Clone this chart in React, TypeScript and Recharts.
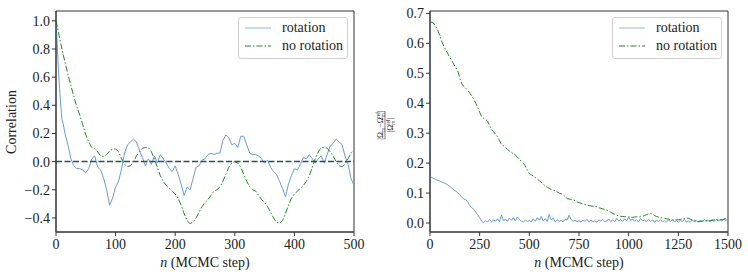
import React from 'react';
import { LineChart, Line, XAxis, YAxis, ReferenceLine, ReferenceArea } from 'recharts';

// ---------- Left panel: autocorrelation ----------
const leftN = [0, 2, 4, 6, 8, 10, 12, 15, 20, 25, 30, 35, 40, 45, 50, 55, 60, 65, 70, 75, 80, 85, 90, 95, 100,
  105, 110, 115, 120, 125, 130, 135, 140, 145, 150, 155, 160, 165, 170, 175, 180, 185, 190, 195, 200,
  205, 210, 215, 220, 225, 230, 235, 240, 245, 250, 255, 260, 265, 270, 275, 280, 285, 290, 295, 300,
  305, 310, 315, 320, 325, 330, 335, 340, 345, 350, 355, 360, 365, 370, 375, 380, 385, 390, 395, 400,
  405, 410, 415, 420, 425, 430, 435, 440, 445, 450, 455, 460, 465, 470, 475, 480, 485, 490, 495, 500];
const leftRotation = [1.0, 0.84, 0.66, 0.52, 0.4, 0.3, 0.27, 0.2, 0.12, 0.02, -0.03, -0.05, -0.05, -0.06, -0.08, -0.05, 0.02, 0.04, -0.04, -0.06, -0.12, -0.2, -0.31, -0.26, -0.18,
  -0.14, -0.05, 0.06, 0.12, 0.14, 0.16, 0.14, 0.08, 0.03, -0.03, 0.02, -0.02, 0.04, -0.01, 0.05, 0.02, -0.01, -0.05, -0.07, -0.03,
  -0.09, -0.16, -0.24, -0.18, -0.2, -0.12, -0.04, -0.03, 0.01, 0.02, 0.05, 0.06, 0.05, 0.06, 0.06, 0.15, 0.19, 0.17, 0.12, 0.13,
  0.1, 0.18, 0.18, 0.12, 0.06, 0.05, 0.05, 0.04, 0.02, -0.01, 0.01, -0.04, -0.07, -0.09, -0.14, -0.19, -0.25, -0.16, -0.1, -0.05,
  -0.06, -0.02, 0.03, 0.02, 0.05, 0.02, -0.01, 0.02, 0.04, -0.01, 0.05, 0.11, 0.13, 0.16, 0.14, 0.12, 0.04, -0.02, -0.12, -0.17];
const leftNoRotation = [1.0, 0.96, 0.92, 0.88, 0.84, 0.8, 0.76, 0.71, 0.62, 0.54, 0.46, 0.39, 0.33, 0.26, 0.19, 0.14, 0.1, 0.09, 0.07, 0.04, 0.035, 0.05, 0.075, 0.09, 0.09,
  0.07, 0.02, -0.02, -0.035, -0.03, 0.0, 0.04, 0.07, 0.095, 0.1, 0.1, 0.07, 0.02, -0.04, -0.1, -0.14, -0.17, -0.19, -0.21, -0.23,
  -0.26, -0.31, -0.37, -0.42, -0.44, -0.43, -0.4, -0.36, -0.32, -0.29, -0.27, -0.24, -0.21, -0.2, -0.18, -0.14, -0.09, -0.04, -0.01, 0.0,
  -0.01, -0.04, -0.09, -0.14, -0.18, -0.2, -0.21, -0.24, -0.27, -0.29, -0.32, -0.36, -0.4, -0.43, -0.44, -0.42, -0.37, -0.31, -0.26, -0.23,
  -0.21, -0.19, -0.17, -0.14, -0.1, -0.04, 0.02, 0.07, 0.1, 0.1, 0.095, 0.07, 0.04, 0.0, -0.03, -0.035, -0.02, 0.02, 0.06, 0.08];
const leftXTicks = [0, 100, 200, 300, 400, 500];
const leftYTicks = [-0.4, -0.2, 0.0, 0.2, 0.4, 0.6, 0.8, 1.0];

// ---------- Right panel: relative error of Omega_m ----------
const rightN = [0, 1, 10, 20, 30, 40, 50, 60, 70, 80, 90, 100, 110, 120, 130, 140, 150, 160, 170, 180, 190, 200,
  210, 220, 230, 240, 250, 260, 270, 280, 290, 300, 310, 320, 330, 340, 350, 360, 370, 380, 390, 400,
  410, 420, 430, 440, 450, 460, 470, 480, 490, 500, 510, 520, 530, 540, 550, 560, 570, 580, 590, 600,
  610, 620, 630, 640, 650, 660, 670, 680, 690, 700, 710, 720, 730, 740, 750, 760, 770, 780, 790, 800,
  810, 820, 830, 840, 850, 860, 870, 880, 890, 900, 910, 920, 930, 940, 950, 960, 970, 980, 990, 1000,
  1010, 1020, 1030, 1040, 1050, 1060, 1070, 1080, 1090, 1100, 1110, 1120, 1130, 1140, 1150, 1160, 1170, 1180, 1190, 1200,
  1210, 1220, 1230, 1240, 1250, 1260, 1270, 1280, 1290, 1300, 1310, 1320, 1330, 1340, 1350, 1360, 1370, 1380, 1390, 1400,
  1410, 1420, 1430, 1440, 1450, 1460, 1470, 1480, 1490, 1500];
const rightRotation = [0.672, 0.155, 0.152, 0.148, 0.145, 0.142, 0.14, 0.137, 0.134, 0.131, 0.127, 0.122, 0.116, 0.111, 0.106, 0.101, 0.095, 0.086, 0.08, 0.078, 0.07, 0.058,
  0.052, 0.045, 0.036, 0.028, 0.018, 0.006, 0.001, 0.008, 0.003, 0.012, 0.004, 0.01, 0.006, 0.014, 0.005, 0.027, 0.008, 0.012, 0.005, 0.016,
  0.009, 0.018, 0.007, 0.02, 0.012, 0.006, 0.003, 0.01, 0.005, 0.008, 0.004, 0.014, 0.006, 0.018, 0.009, 0.022, 0.006, 0.015, 0.005, 0.029,
  0.01, 0.016, 0.004, 0.011, 0.006, 0.008, 0.004, 0.012, 0.01, 0.026, 0.012, 0.006, 0.009, 0.004, 0.008, 0.003, 0.01, 0.005, 0.012, 0.004,
  0.009, 0.005, 0.007, 0.003, 0.011, 0.006, 0.012, 0.004, 0.008, 0.013, 0.005, 0.01, 0.004, 0.016, 0.007, 0.012, 0.005, 0.014, 0.008, 0.019,
  0.009, 0.013, 0.006, 0.011, 0.004, 0.015, 0.007, 0.01, 0.004, 0.012, 0.006, 0.01, 0.003, 0.009, 0.005, 0.011, 0.004, 0.008, 0.003, 0.01,
  0.005, 0.011, 0.004, 0.008, 0.003, 0.009, 0.005, 0.012, 0.004, 0.007, 0.003, 0.01, 0.005, 0.008, 0.003, 0.009, 0.005, 0.012, 0.006, 0.008,
  0.004, 0.01, 0.005, 0.012, 0.007, 0.011, 0.006, 0.014, 0.008, 0.016];
const rightNoRotation = [0.672, 0.672, 0.67, 0.666, 0.655, 0.642, 0.625, 0.605, 0.59, 0.577, 0.565, 0.553, 0.542, 0.53, 0.519, 0.508, 0.484, 0.465, 0.456, 0.45, 0.443, 0.434,
  0.424, 0.413, 0.4, 0.387, 0.37, 0.355, 0.35, 0.346, 0.34, 0.325, 0.312, 0.305, 0.296, 0.288, 0.275, 0.262, 0.258, 0.252, 0.246, 0.24,
  0.236, 0.231, 0.226, 0.22, 0.213, 0.206, 0.2, 0.19, 0.175, 0.165, 0.161, 0.157, 0.152, 0.147, 0.141, 0.136, 0.13, 0.124, 0.12, 0.116,
  0.112, 0.11, 0.108, 0.104, 0.1, 0.098, 0.094, 0.088, 0.082, 0.08, 0.079, 0.077, 0.075, 0.071, 0.068, 0.066, 0.064, 0.062, 0.06, 0.058,
  0.057, 0.056, 0.055, 0.054, 0.051, 0.049, 0.047, 0.045, 0.043, 0.04, 0.036, 0.032, 0.029, 0.026, 0.024, 0.022, 0.022, 0.021, 0.021, 0.02,
  0.02, 0.019, 0.02, 0.021, 0.02, 0.021, 0.022, 0.025, 0.028, 0.031, 0.032, 0.029, 0.025, 0.022, 0.02, 0.018, 0.017, 0.016, 0.014, 0.013,
  0.011, 0.01, 0.01, 0.011, 0.011, 0.012, 0.013, 0.015, 0.017, 0.016, 0.013, 0.01, 0.008, 0.006, 0.005, 0.005, 0.006, 0.008, 0.008, 0.009,
  0.008, 0.01, 0.01, 0.011, 0.01, 0.012, 0.011, 0.013, 0.015, 0.018];
const rightXTicks = [0, 250, 500, 750, 1000, 1250, 1500];
const rightYTicks = [0.0, 0.1, 0.2, 0.3, 0.4, 0.5, 0.6, 0.7];

const seriesNames = ['rotation', 'no rotation'];

const leftData = leftN.map((n, i) => ({ n, rotation: leftRotation[i], noRotation: leftNoRotation[i] }));
const rightData = rightN.map((n, i) => ({ n, rotation: rightRotation[i], noRotation: rightNoRotation[i] }));

const FONT = 'Liberation Serif';
const BLUE = '#6a9bd2';
const GREEN = '#1f8a1f';
const AXIS = '#333';
const DASHDOT = '6 2 1.5 2';

const fmt = (v: number) => v.toFixed(1).replace('-', '\u2212');

const tickStyle = { fontFamily: FONT, fontSize: 14, fill: '#222', style: { fontFamily: FONT } };

const XLabel = () => (
  <text x={205} y={267} textAnchor="middle" fontFamily={FONT} style={{ fontFamily: FONT }} fontSize={14} fill="#222">
    <tspan fontStyle="italic">n</tspan> (MCMC step)
  </text>
);

const CorrLabel = () => (
  <text x={16} y={122} transform="rotate(-90 16 122)" textAnchor="middle" fontFamily={FONT} style={{ fontFamily: FONT }} fontSize={14} fill="#222">
    Correlation
  </text>
);

const FracLabel = () => (
  <g transform="translate(11 125) rotate(-90)" fill="#222" style={{ fontFamily: FONT }}>
    <text x={0} y={-2} textAnchor="middle" fontSize={8} style={{ fontFamily: FONT }}>
      |Ω<tspan fontSize={5.5} dy={1.5}>m</tspan><tspan dy={-1.5}>−Ω</tspan><tspan fontSize={5.5} dy={1.5}>m</tspan><tspan fontSize={5.5} dx={-5} dy={-5}>ref</tspan><tspan dy={3.5}>|</tspan>
    </text>
    <line x1={-14} x2={14} y1={0} y2={0} stroke="#222" strokeWidth={0.6} />
    <text x={0} y={8} textAnchor="middle" fontSize={8} style={{ fontFamily: FONT }}>
      |Ω<tspan fontSize={5.5} dy={1.5}>m</tspan><tspan fontSize={5.5} dx={-5} dy={-5}>ref</tspan><tspan dy={3.5}>|</tspan>
    </text>
  </g>
);

const LegendBox = ({ left }: { left: number }) => (
  <div
    style={{
      position: 'absolute',
      left,
      top: 17,
      width: 110,
      height: 42,
      boxSizing: 'border-box',
      border: '1px solid #d0d0d0',
      borderRadius: 3,
      background: 'rgba(255,255,255,0.85)',
      fontFamily: FONT,
      fontSize: 14,
      color: '#222',
    }}
  >
    {seriesNames.map((name, i) => (
      <div key={name} style={{ position: 'absolute', left: 5, top: 1 + i * 18, height: 18, display: 'flex', alignItems: 'center' }}>
        <svg width={28} height={10} style={{ display: 'block' }}>
          <line x1={1} x2={27} y1={5} y2={5} stroke={i === 0 ? BLUE : GREEN} strokeOpacity={i === 0 ? 0.6 : 1}
            strokeWidth={1.2} strokeDasharray={i === 0 ? undefined : DASHDOT} />
        </svg>
        <span style={{ marginLeft: 10, lineHeight: '18px', whiteSpace: 'nowrap' }}>{name}</span>
      </div>
    ))}
  </div>
);

const margin = { top: 11, right: 20, left: 10, bottom: 14 };

export default function App() {
  return (
    <div style={{ position: 'absolute', left: 0, top: 0, width: 748, height: 276, background: '#fff', fontFamily: FONT }}>
      <div style={{ position: 'absolute', left: 0, top: 0 }}>
        <LineChart width={374} height={276} data={leftData} margin={margin} style={{ fontFamily: FONT }}>
          <XAxis dataKey="n" type="number" domain={[0, 500]} ticks={leftXTicks} allowDataOverflow
            tick={tickStyle} tickSize={4} tickMargin={3} stroke={AXIS} height={30} label={<XLabel />} />
          <YAxis type="number" domain={[-0.5, 1.07]} ticks={leftYTicks} allowDataOverflow tickFormatter={fmt}
            tick={tickStyle} tickSize={4} tickMargin={2} stroke={AXIS} width={46} label={<CorrLabel />} />
          <Line dataKey="rotation" name="rotation" type="linear" stroke={BLUE} strokeWidth={1} dot={false} isAnimationActive={false} />
          <Line dataKey="noRotation" name="no rotation" type="linear" stroke={GREEN} strokeWidth={1} strokeDasharray={DASHDOT} dot={false} isAnimationActive={false} />
          <ReferenceLine y={0} stroke="#2f4f4f" strokeWidth={1.5} strokeDasharray="6 2.5" />
          <ReferenceArea x1={0} x2={500} y1={-0.5} y2={1.07} fill="none" stroke={AXIS} strokeWidth={1} ifOverflow="visible" />
        </LineChart>
        <LegendBox left={238} />
      </div>
      <div style={{ position: 'absolute', left: 374, top: 0 }}>
        <LineChart width={374} height={276} data={rightData} margin={margin} style={{ fontFamily: FONT }}>
          <XAxis dataKey="n" type="number" domain={[0, 1500]} ticks={rightXTicks} allowDataOverflow
            tick={tickStyle} tickSize={4} tickMargin={3} stroke={AXIS} height={30} label={<XLabel />} />
          <YAxis type="number" domain={[-0.03, 0.708]} ticks={rightYTicks} allowDataOverflow tickFormatter={fmt}
            tick={tickStyle} tickSize={4} tickMargin={2} stroke={AXIS} width={46} label={<FracLabel />} />
          <Line dataKey="rotation" name="rotation" type="linear" stroke={BLUE} strokeWidth={1} dot={false} isAnimationActive={false} />
          <Line dataKey="noRotation" name="no rotation" type="linear" stroke={GREEN} strokeWidth={1} strokeDasharray={DASHDOT} dot={false} isAnimationActive={false} />
          <ReferenceArea x1={0} x2={1500} y1={-0.03} y2={0.708} fill="none" stroke={AXIS} strokeWidth={1} ifOverflow="visible" />
        </LineChart>
        <LegendBox left={238} />
      </div>
    </div>
  );
}
